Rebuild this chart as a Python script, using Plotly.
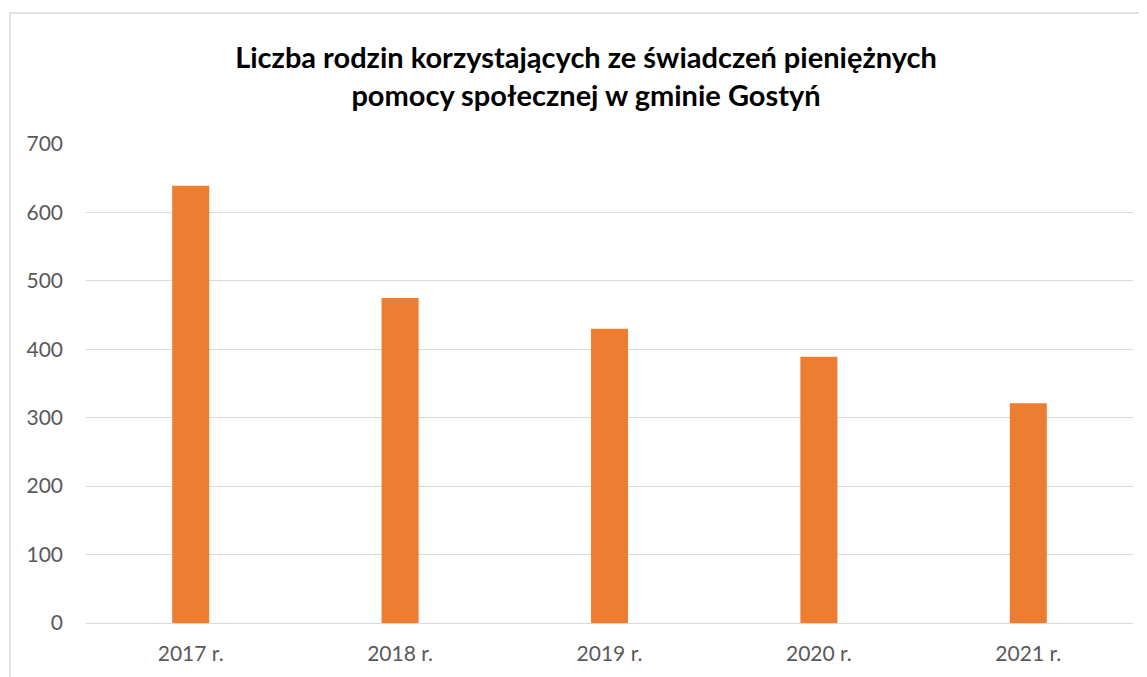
import plotly.graph_objects as go

categories = ["2017 r.", "2018 r.", "2019 r.", "2020 r.", "2021 r."]
values = [639, 475, 430, 389, 321]
y_ticks = [0, 100, 200, 300, 400, 500, 600, 700]

# page has an 8px body margin; compensate so the figure lands at the target pixels
OFF = 8
W, H = 1147 - OFF, 677 - OFF
L, R, T, B = 86 - OFF, 14, 144 - OFF, 54
pw = W - L - R
ph = H - T - B

fig = go.Figure(go.Bar(x=categories, y=values, marker=dict(color="#ED7D31", line=dict(width=0)),
                       width=0.177))

fig.update_layout(
    width=W, height=H,
    margin=dict(l=L, r=R, t=T, b=B),
    paper_bgcolor="white", plot_bgcolor="white",
    showlegend=False,
    font=dict(family="Lato, Open Sans, sans-serif", color="#595959", size=21),
    title=dict(
        text="<b>Liczba rodzin korzystających ze świadczeń pieniężnych<br>pomocy społecznej w gminie Gostyń</b>",
        x=(586 - OFF) / W, xref="container", xanchor="center",
        y=1 - (68 - OFF) / H, yref="container", yanchor="middle",
        font=dict(family="Lato, Open Sans, sans-serif", size=29, color="#000000"),
    ),
    xaxis=dict(showgrid=False, showline=True, linecolor="#D9D9D9", linewidth=1,
               ticks="", tickfont=dict(size=21, color="#595959"), ticklabelstandoff=12),
    yaxis=dict(range=[0, 700], tickvals=y_ticks, showgrid=True, gridcolor="#D9D9D9", gridwidth=1,
               zeroline=False, showline=False, ticks="",
               tickfont=dict(size=21, color="#595959"), ticklabelstandoff=22),
    shapes=[dict(type="rect", xref="paper", yref="paper",
                 x0=(10 - 86) / pw, x1=(1160 - 86) / pw,
                 y0=-(690 - 623) / ph, y1=(623 - 13) / ph,
                 line=dict(color="#D9D9D9", width=1.5), fillcolor="rgba(0,0,0,0)", layer="below")],
)

fig.write_html("out.html")
